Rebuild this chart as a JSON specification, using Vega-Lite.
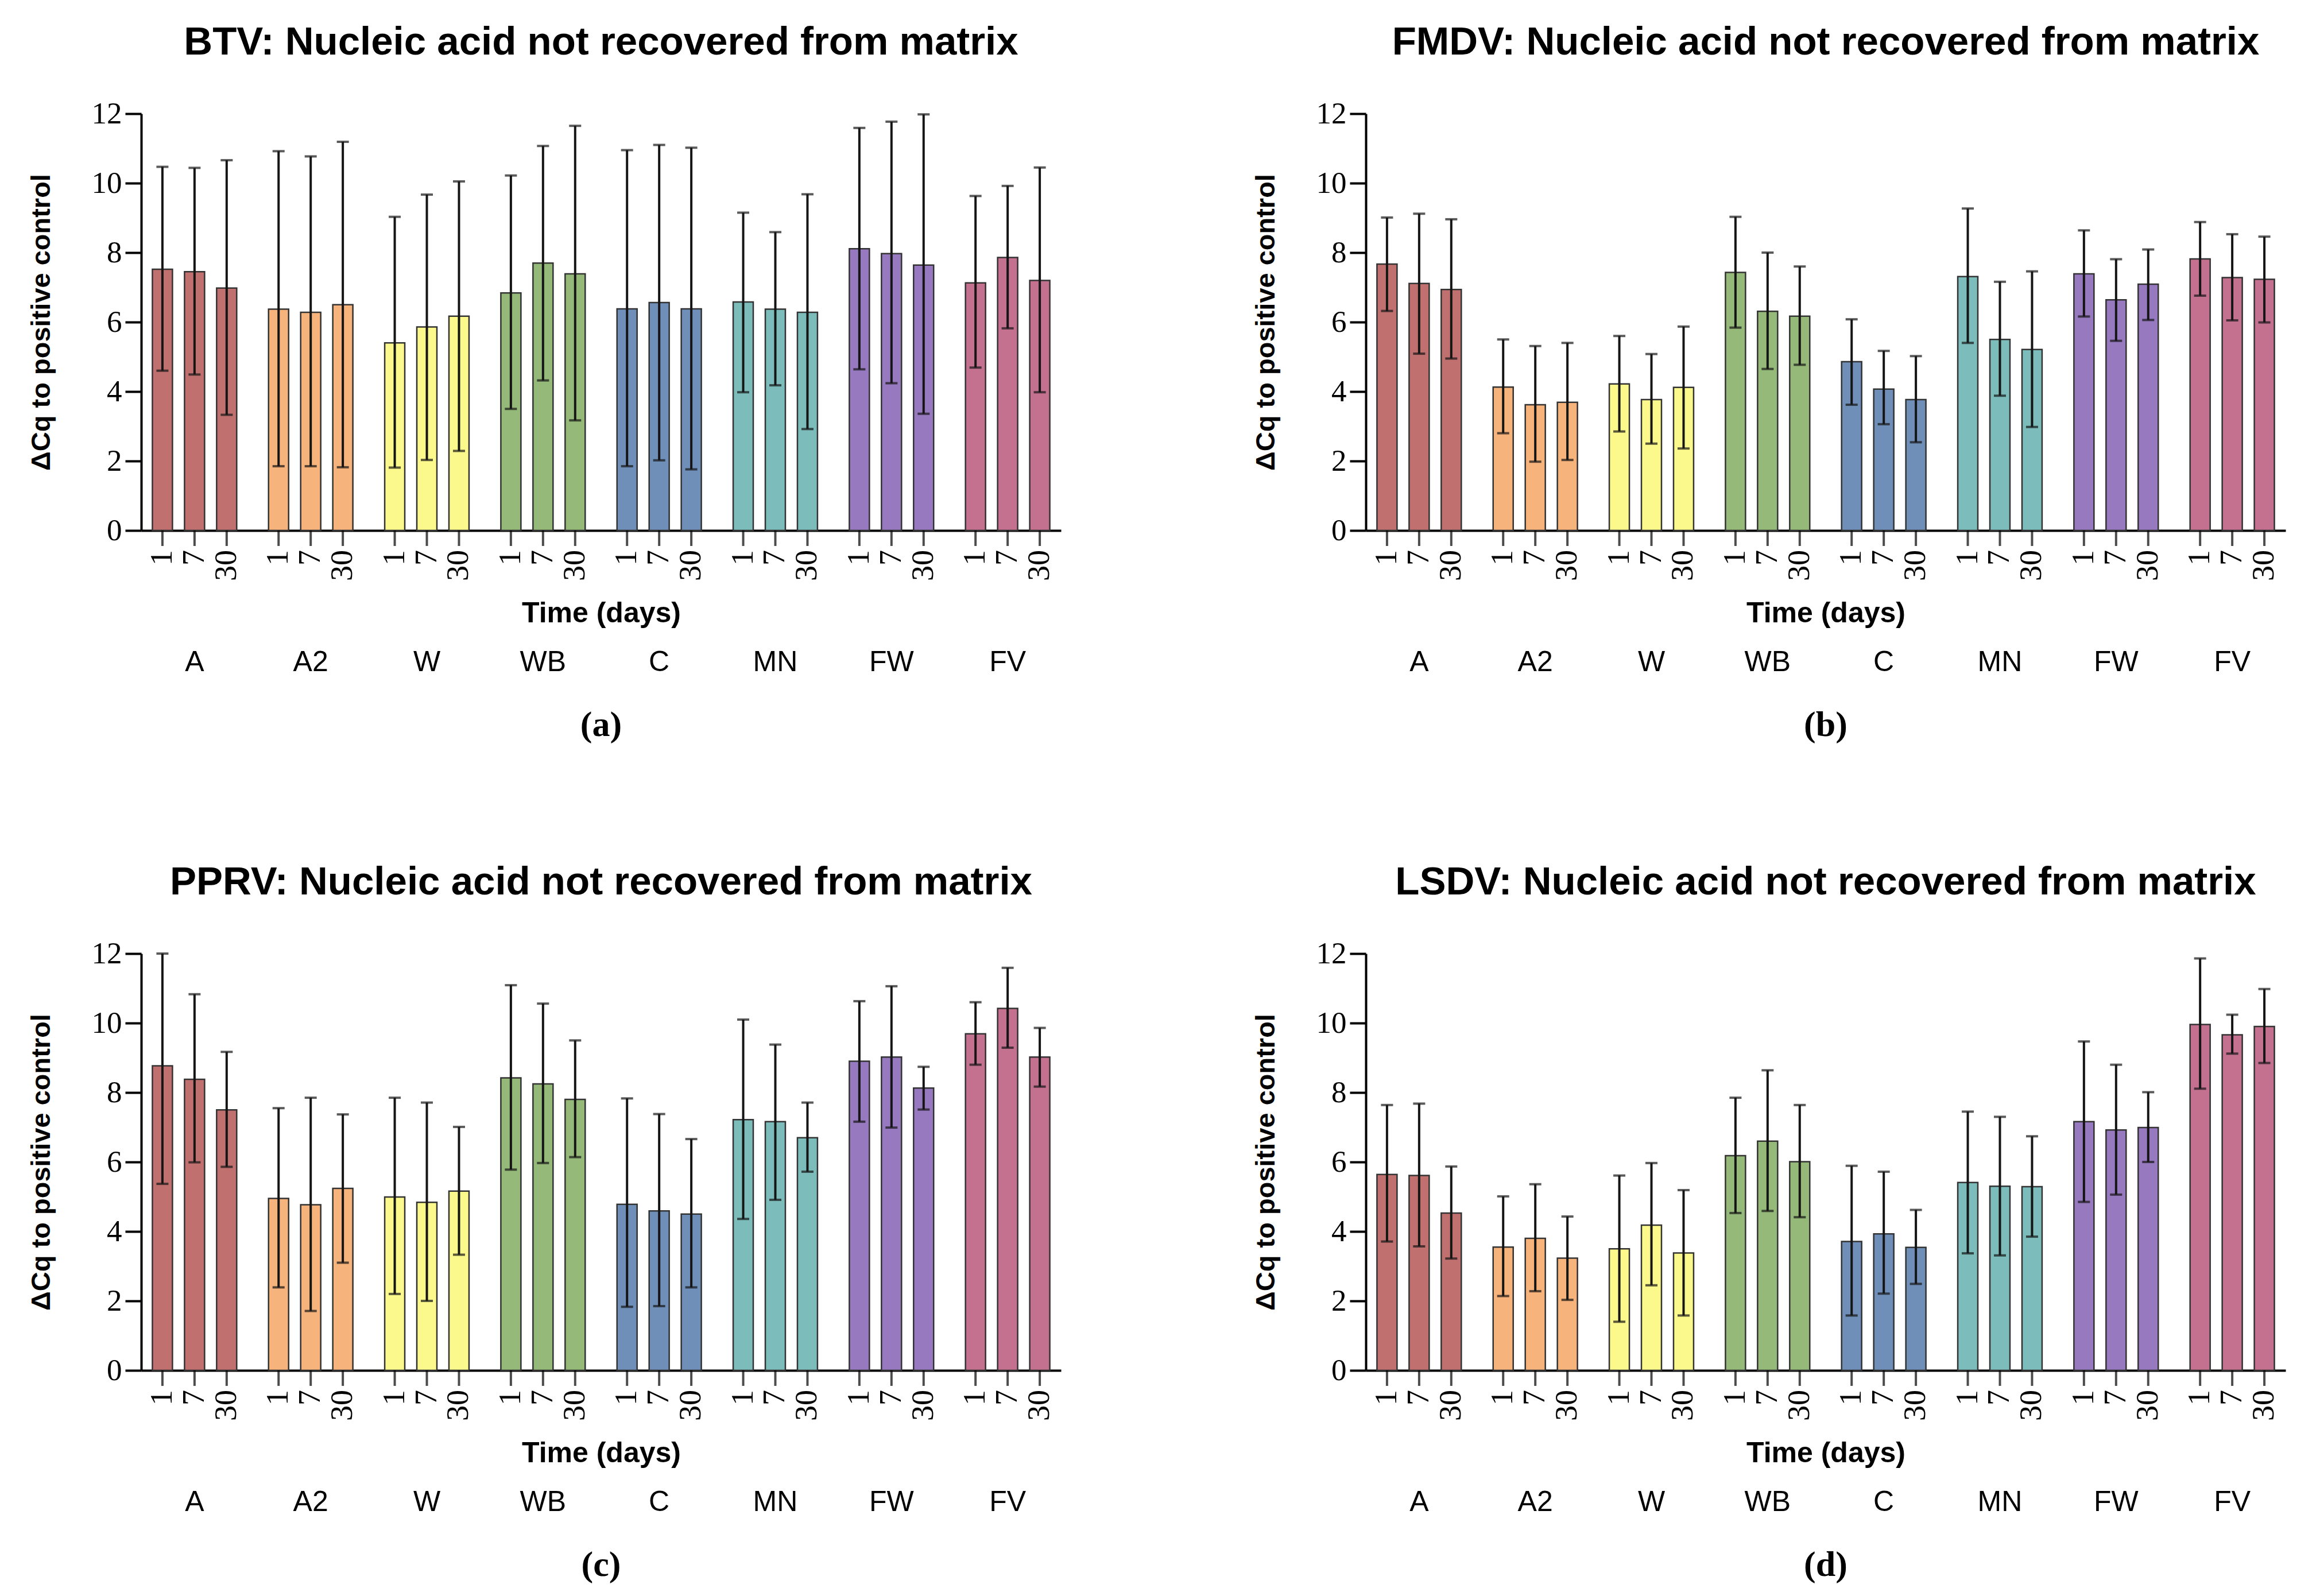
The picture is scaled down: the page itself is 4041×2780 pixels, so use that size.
{
  "$schema": "https://vega.github.io/schema/vega-lite/v6.json",
  "background": "white",
  "padding": {"left": 48, "top": 40, "right": 10, "bottom": 10},
  "datasets": {
    "rows": [
      {"virus":"BTV","matrix":"A","time":"1","mean":7.52,"lo":4.60,"hi":10.47},
      {"virus":"BTV","matrix":"A","time":"7","mean":7.45,"lo":4.49,"hi":10.44},
      {"virus":"BTV","matrix":"A","time":"30","mean":6.98,"lo":3.33,"hi":10.66},
      {"virus":"BTV","matrix":"A2","time":"1","mean":6.37,"lo":1.85,"hi":10.92},
      {"virus":"BTV","matrix":"A2","time":"7","mean":6.28,"lo":1.85,"hi":10.77},
      {"virus":"BTV","matrix":"A2","time":"30","mean":6.50,"lo":1.82,"hi":11.19},
      {"virus":"BTV","matrix":"W","time":"1","mean":5.40,"lo":1.81,"hi":9.03},
      {"virus":"BTV","matrix":"W","time":"7","mean":5.86,"lo":2.03,"hi":9.67},
      {"virus":"BTV","matrix":"W","time":"30","mean":6.17,"lo":2.29,"hi":10.05},
      {"virus":"BTV","matrix":"WB","time":"1","mean":6.84,"lo":3.50,"hi":10.22},
      {"virus":"BTV","matrix":"WB","time":"7","mean":7.70,"lo":4.32,"hi":11.07},
      {"virus":"BTV","matrix":"WB","time":"30","mean":7.39,"lo":3.17,"hi":11.65},
      {"virus":"BTV","matrix":"C","time":"1","mean":6.38,"lo":1.85,"hi":10.95},
      {"virus":"BTV","matrix":"C","time":"7","mean":6.56,"lo":2.02,"hi":11.10},
      {"virus":"BTV","matrix":"C","time":"30","mean":6.38,"lo":1.76,"hi":11.02},
      {"virus":"BTV","matrix":"MN","time":"1","mean":6.58,"lo":3.98,"hi":9.15},
      {"virus":"BTV","matrix":"MN","time":"7","mean":6.37,"lo":4.18,"hi":8.59},
      {"virus":"BTV","matrix":"MN","time":"30","mean":6.28,"lo":2.92,"hi":9.68},
      {"virus":"BTV","matrix":"FW","time":"1","mean":8.11,"lo":4.64,"hi":11.59},
      {"virus":"BTV","matrix":"FW","time":"7","mean":7.97,"lo":4.24,"hi":11.77},
      {"virus":"BTV","matrix":"FW","time":"30","mean":7.64,"lo":3.36,"hi":11.98},
      {"virus":"BTV","matrix":"FV","time":"1","mean":7.13,"lo":4.69,"hi":9.63},
      {"virus":"BTV","matrix":"FV","time":"7","mean":7.86,"lo":5.82,"hi":9.92},
      {"virus":"BTV","matrix":"FV","time":"30","mean":7.20,"lo":3.98,"hi":10.45},

      {"virus":"FMDV","matrix":"A","time":"1","mean":7.67,"lo":6.32,"hi":9.01},
      {"virus":"FMDV","matrix":"A","time":"7","mean":7.11,"lo":5.09,"hi":9.12},
      {"virus":"FMDV","matrix":"A","time":"30","mean":6.94,"lo":4.95,"hi":8.96},
      {"virus":"FMDV","matrix":"A2","time":"1","mean":4.13,"lo":2.80,"hi":5.50},
      {"virus":"FMDV","matrix":"A2","time":"7","mean":3.62,"lo":1.98,"hi":5.31},
      {"virus":"FMDV","matrix":"A2","time":"30","mean":3.69,"lo":2.03,"hi":5.40},
      {"virus":"FMDV","matrix":"W","time":"1","mean":4.22,"lo":2.85,"hi":5.60},
      {"virus":"FMDV","matrix":"W","time":"7","mean":3.77,"lo":2.50,"hi":5.08},
      {"virus":"FMDV","matrix":"W","time":"30","mean":4.12,"lo":2.36,"hi":5.87},
      {"virus":"FMDV","matrix":"WB","time":"1","mean":7.43,"lo":5.84,"hi":9.03},
      {"virus":"FMDV","matrix":"WB","time":"7","mean":6.31,"lo":4.65,"hi":8.00},
      {"virus":"FMDV","matrix":"WB","time":"30","mean":6.17,"lo":4.77,"hi":7.60},
      {"virus":"FMDV","matrix":"C","time":"1","mean":4.86,"lo":3.62,"hi":6.08},
      {"virus":"FMDV","matrix":"C","time":"7","mean":4.07,"lo":3.06,"hi":5.17},
      {"virus":"FMDV","matrix":"C","time":"30","mean":3.77,"lo":2.54,"hi":5.02},
      {"virus":"FMDV","matrix":"MN","time":"1","mean":7.31,"lo":5.40,"hi":9.27},
      {"virus":"FMDV","matrix":"MN","time":"7","mean":5.50,"lo":3.88,"hi":7.16},
      {"virus":"FMDV","matrix":"MN","time":"30","mean":5.21,"lo":2.98,"hi":7.46},
      {"virus":"FMDV","matrix":"FW","time":"1","mean":7.39,"lo":6.16,"hi":8.64},
      {"virus":"FMDV","matrix":"FW","time":"7","mean":6.64,"lo":5.46,"hi":7.81},
      {"virus":"FMDV","matrix":"FW","time":"30","mean":7.09,"lo":6.06,"hi":8.09},
      {"virus":"FMDV","matrix":"FV","time":"1","mean":7.82,"lo":6.76,"hi":8.88},
      {"virus":"FMDV","matrix":"FV","time":"7","mean":7.28,"lo":6.05,"hi":8.53},
      {"virus":"FMDV","matrix":"FV","time":"30","mean":7.23,"lo":5.99,"hi":8.46},

      {"virus":"PPRV","matrix":"A","time":"1","mean":8.77,"lo":5.37,"hi":12.0},
      {"virus":"PPRV","matrix":"A","time":"7","mean":8.38,"lo":5.99,"hi":10.83},
      {"virus":"PPRV","matrix":"A","time":"30","mean":7.50,"lo":5.86,"hi":9.17},
      {"virus":"PPRV","matrix":"A2","time":"1","mean":4.95,"lo":2.39,"hi":7.55},
      {"virus":"PPRV","matrix":"A2","time":"7","mean":4.77,"lo":1.71,"hi":7.85},
      {"virus":"PPRV","matrix":"A2","time":"30","mean":5.24,"lo":3.10,"hi":7.37},
      {"virus":"PPRV","matrix":"W","time":"1","mean":4.99,"lo":2.20,"hi":7.85},
      {"virus":"PPRV","matrix":"W","time":"7","mean":4.84,"lo":2.00,"hi":7.71},
      {"virus":"PPRV","matrix":"W","time":"30","mean":5.16,"lo":3.33,"hi":7.01},
      {"virus":"PPRV","matrix":"WB","time":"1","mean":8.42,"lo":5.78,"hi":11.09},
      {"virus":"PPRV","matrix":"WB","time":"7","mean":8.25,"lo":5.97,"hi":10.56},
      {"virus":"PPRV","matrix":"WB","time":"30","mean":7.80,"lo":6.14,"hi":9.50},
      {"virus":"PPRV","matrix":"C","time":"1","mean":4.78,"lo":1.83,"hi":7.83},
      {"virus":"PPRV","matrix":"C","time":"7","mean":4.59,"lo":1.85,"hi":7.38},
      {"virus":"PPRV","matrix":"C","time":"30","mean":4.50,"lo":2.39,"hi":6.66},
      {"virus":"PPRV","matrix":"MN","time":"1","mean":7.22,"lo":4.36,"hi":10.10},
      {"virus":"PPRV","matrix":"MN","time":"7","mean":7.16,"lo":4.91,"hi":9.38},
      {"virus":"PPRV","matrix":"MN","time":"30","mean":6.70,"lo":5.72,"hi":7.71},
      {"virus":"PPRV","matrix":"FW","time":"1","mean":8.90,"lo":7.16,"hi":10.63},
      {"virus":"PPRV","matrix":"FW","time":"7","mean":9.02,"lo":6.99,"hi":11.06},
      {"virus":"PPRV","matrix":"FW","time":"30","mean":8.13,"lo":7.51,"hi":8.74},
      {"virus":"PPRV","matrix":"FV","time":"1","mean":9.69,"lo":8.80,"hi":10.60},
      {"virus":"PPRV","matrix":"FV","time":"7","mean":10.42,"lo":9.29,"hi":11.59},
      {"virus":"PPRV","matrix":"FV","time":"30","mean":9.02,"lo":8.17,"hi":9.86},

      {"virus":"LSDV","matrix":"A","time":"1","mean":5.64,"lo":3.71,"hi":7.64},
      {"virus":"LSDV","matrix":"A","time":"7","mean":5.61,"lo":3.57,"hi":7.68},
      {"virus":"LSDV","matrix":"A","time":"30","mean":4.53,"lo":3.22,"hi":5.87},
      {"virus":"LSDV","matrix":"A2","time":"1","mean":3.55,"lo":2.14,"hi":5.01},
      {"virus":"LSDV","matrix":"A2","time":"7","mean":3.80,"lo":2.28,"hi":5.36},
      {"virus":"LSDV","matrix":"A2","time":"30","mean":3.23,"lo":2.03,"hi":4.43},
      {"virus":"LSDV","matrix":"W","time":"1","mean":3.50,"lo":1.40,"hi":5.61},
      {"virus":"LSDV","matrix":"W","time":"7","mean":4.18,"lo":2.45,"hi":5.97},
      {"virus":"LSDV","matrix":"W","time":"30","mean":3.38,"lo":1.58,"hi":5.19},
      {"virus":"LSDV","matrix":"WB","time":"1","mean":6.18,"lo":4.53,"hi":7.85},
      {"virus":"LSDV","matrix":"WB","time":"7","mean":6.60,"lo":4.59,"hi":8.64},
      {"virus":"LSDV","matrix":"WB","time":"30","mean":6.01,"lo":4.41,"hi":7.64},
      {"virus":"LSDV","matrix":"C","time":"1","mean":3.71,"lo":1.58,"hi":5.89},
      {"virus":"LSDV","matrix":"C","time":"7","mean":3.93,"lo":2.21,"hi":5.72},
      {"virus":"LSDV","matrix":"C","time":"30","mean":3.54,"lo":2.49,"hi":4.62},
      {"virus":"LSDV","matrix":"MN","time":"1","mean":5.41,"lo":3.37,"hi":7.45},
      {"virus":"LSDV","matrix":"MN","time":"7","mean":5.30,"lo":3.31,"hi":7.30},
      {"virus":"LSDV","matrix":"MN","time":"30","mean":5.29,"lo":3.85,"hi":6.74},
      {"virus":"LSDV","matrix":"FW","time":"1","mean":7.16,"lo":4.85,"hi":9.47},
      {"virus":"LSDV","matrix":"FW","time":"7","mean":6.92,"lo":5.06,"hi":8.80},
      {"virus":"LSDV","matrix":"FW","time":"30","mean":6.99,"lo":6.00,"hi":8.01},
      {"virus":"LSDV","matrix":"FV","time":"1","mean":9.96,"lo":8.11,"hi":11.86},
      {"virus":"LSDV","matrix":"FV","time":"7","mean":9.66,"lo":9.12,"hi":10.24},
      {"virus":"LSDV","matrix":"FV","time":"30","mean":9.90,"lo":8.85,"hi":10.98}
    ]
  },
  "config": {
    "view": {"stroke": null},
    "font": "Liberation Sans",
    "axis": {"grid": false, "domainColor": "#000", "tickColor": "#000", "labelColor": "#000", "titleColor": "#000", "domainWidth": 4, "tickWidth": 4},
    "axisX": {"ticks": false, "labelAngle": 0, "labelPadding": 204, "labelFont": "Liberation Sans", "labelFontSize": 50, "titleFont": "Liberation Sans", "titleFontSize": 50, "titleFontWeight": "bold", "titleY": 159, "titleBaseline": "alphabetic"},
    "axisY": {"tickSize": 28, "labelPadding": 6, "labelFont": "Liberation Sans Narrow", "labelFontSize": 53, "titleFont": "Liberation Sans", "titleFontSize": 47, "titleFontWeight": "bold", "titleX": -160, "titleY": 363, "titleBaseline": "alphabetic", "titleAlign": "center", "titleAngle": 270},
    "title": {"font": "Liberation Sans", "fontSize": 69, "fontWeight": "bold", "color": "#000", "anchor": "middle", "frame": "group", "offset": 63},
    "concat": {"spacing": 0}
  },
  "spacing": 209,
  "vconcat": [
    {
      "spacing": 333,
      "hconcat": [
        {
          "title": {"text": "(a)", "orient": "bottom", "font": "Liberation Serif", "fontSize": 62, "fontWeight": "bold", "offset": 55, "anchor": "middle", "dx": 801},
          "vconcat": [{
            "width": 1602, "height": 726,
            "title": {"text": "BTV: Nucleic acid not recovered from matrix"},
            "data": {"name": "rows"},
            "transform": [{"filter": "datum.virus === 'BTV'"}],
            "encoding": {
              "x": {"field": "matrix", "type": "nominal", "sort": ["A","A2","W","WB","C","MN","FW","FV"], "scale": {"paddingInner": 0.274, "paddingOuter": 0.096}, "axis": {"title": "Time (days)"}},
              "xOffset": {"field": "time", "type": "nominal", "sort": ["1","7","30"], "scale": {"paddingInner": 0.375, "paddingOuter": 0}}
            },
            "layer": [
              {"mark": {"type": "bar", "stroke": "#333", "strokeWidth": 2.5}, "encoding": {"y": {"field": "mean", "type": "quantitative", "scale": {"domain": [0, 12], "nice": false}, "axis": {"title": "ΔCq to positive control", "values": [0,2,4,6,8,10,12], "format": "d"}}, "color": {"field": "matrix", "type": "nominal", "scale": {"domain": ["A","A2","W","WB","C","MN","FW","FV"], "range": ["#c0716f","#f7b37c","#fcf98c","#95b979","#6f8fb8","#7cbdbb","#9779bf","#c47190"]}, "legend": null}}},
              {"mark": {"type": "rule", "color": "#151515", "strokeWidth": 4}, "encoding": {"y": {"field": "lo", "type": "quantitative"}, "y2": {"field": "hi"}}},
              {"mark": {"type": "tick", "color": "#151515", "thickness": 4, "size": 21}, "encoding": {"y": {"field": "lo", "type": "quantitative"}}},
              {"mark": {"type": "tick", "color": "#151515", "thickness": 4, "size": 21}, "encoding": {"y": {"field": "hi", "type": "quantitative"}}},
              {"mark": {"type": "tick", "orient": "vertical", "color": "#000", "thickness": 4, "size": 27, "yOffset": 13.5}, "encoding": {"y": {"datum": 0, "type": "quantitative"}}},
              {"mark": {"type": "text", "angle": 270, "align": "right", "baseline": "middle", "font": "Liberation Sans Narrow", "fontSize": 54, "color": "#000", "yOffset": 34}, "encoding": {"y": {"datum": 0, "type": "quantitative"}, "text": {"field": "time"}}}
            ]
          }]
        },
        {
          "title": {"text": "(b)", "orient": "bottom", "font": "Liberation Serif", "fontSize": 62, "fontWeight": "bold", "offset": 55, "anchor": "middle", "dx": 801},
          "vconcat": [{
            "width": 1602, "height": 726,
            "title": {"text": "FMDV:  Nucleic acid not recovered from matrix"},
            "data": {"name": "rows"},
            "transform": [{"filter": "datum.virus === 'FMDV'"}],
            "encoding": {
              "x": {"field": "matrix", "type": "nominal", "sort": ["A","A2","W","WB","C","MN","FW","FV"], "scale": {"paddingInner": 0.274, "paddingOuter": 0.096}, "axis": {"title": "Time (days)"}},
              "xOffset": {"field": "time", "type": "nominal", "sort": ["1","7","30"], "scale": {"paddingInner": 0.375, "paddingOuter": 0}}
            },
            "layer": [
              {"mark": {"type": "bar", "stroke": "#333", "strokeWidth": 2.5}, "encoding": {"y": {"field": "mean", "type": "quantitative", "scale": {"domain": [0, 12], "nice": false}, "axis": {"title": "ΔCq to positive control", "values": [0,2,4,6,8,10,12], "format": "d"}}, "color": {"field": "matrix", "type": "nominal", "scale": {"domain": ["A","A2","W","WB","C","MN","FW","FV"], "range": ["#c0716f","#f7b37c","#fcf98c","#95b979","#6f8fb8","#7cbdbb","#9779bf","#c47190"]}, "legend": null}}},
              {"mark": {"type": "rule", "color": "#151515", "strokeWidth": 4}, "encoding": {"y": {"field": "lo", "type": "quantitative"}, "y2": {"field": "hi"}}},
              {"mark": {"type": "tick", "color": "#151515", "thickness": 4, "size": 21}, "encoding": {"y": {"field": "lo", "type": "quantitative"}}},
              {"mark": {"type": "tick", "color": "#151515", "thickness": 4, "size": 21}, "encoding": {"y": {"field": "hi", "type": "quantitative"}}},
              {"mark": {"type": "tick", "orient": "vertical", "color": "#000", "thickness": 4, "size": 27, "yOffset": 13.5}, "encoding": {"y": {"datum": 0, "type": "quantitative"}}},
              {"mark": {"type": "text", "angle": 270, "align": "right", "baseline": "middle", "font": "Liberation Sans Narrow", "fontSize": 54, "color": "#000", "yOffset": 34}, "encoding": {"y": {"datum": 0, "type": "quantitative"}, "text": {"field": "time"}}}
            ]
          }]
        }
      ]
    },
    {
      "spacing": 333,
      "hconcat": [
        {
          "title": {"text": "(c)", "orient": "bottom", "font": "Liberation Serif", "fontSize": 62, "fontWeight": "bold", "offset": 55, "anchor": "middle", "dx": 801},
          "vconcat": [{
            "width": 1602, "height": 726,
            "title": {"text": "PPRV:  Nucleic acid not recovered from matrix"},
            "data": {"name": "rows"},
            "transform": [{"filter": "datum.virus === 'PPRV'"}],
            "encoding": {
              "x": {"field": "matrix", "type": "nominal", "sort": ["A","A2","W","WB","C","MN","FW","FV"], "scale": {"paddingInner": 0.274, "paddingOuter": 0.096}, "axis": {"title": "Time (days)"}},
              "xOffset": {"field": "time", "type": "nominal", "sort": ["1","7","30"], "scale": {"paddingInner": 0.375, "paddingOuter": 0}}
            },
            "layer": [
              {"mark": {"type": "bar", "stroke": "#333", "strokeWidth": 2.5}, "encoding": {"y": {"field": "mean", "type": "quantitative", "scale": {"domain": [0, 12], "nice": false}, "axis": {"title": "ΔCq to positive control", "values": [0,2,4,6,8,10,12], "format": "d"}}, "color": {"field": "matrix", "type": "nominal", "scale": {"domain": ["A","A2","W","WB","C","MN","FW","FV"], "range": ["#c0716f","#f7b37c","#fcf98c","#95b979","#6f8fb8","#7cbdbb","#9779bf","#c47190"]}, "legend": null}}},
              {"mark": {"type": "rule", "color": "#151515", "strokeWidth": 4}, "encoding": {"y": {"field": "lo", "type": "quantitative"}, "y2": {"field": "hi"}}},
              {"mark": {"type": "tick", "color": "#151515", "thickness": 4, "size": 21}, "encoding": {"y": {"field": "lo", "type": "quantitative"}}},
              {"mark": {"type": "tick", "color": "#151515", "thickness": 4, "size": 21}, "encoding": {"y": {"field": "hi", "type": "quantitative"}}},
              {"mark": {"type": "tick", "orient": "vertical", "color": "#000", "thickness": 4, "size": 27, "yOffset": 13.5}, "encoding": {"y": {"datum": 0, "type": "quantitative"}}},
              {"mark": {"type": "text", "angle": 270, "align": "right", "baseline": "middle", "font": "Liberation Sans Narrow", "fontSize": 54, "color": "#000", "yOffset": 34}, "encoding": {"y": {"datum": 0, "type": "quantitative"}, "text": {"field": "time"}}}
            ]
          }]
        },
        {
          "title": {"text": "(d)", "orient": "bottom", "font": "Liberation Serif", "fontSize": 62, "fontWeight": "bold", "offset": 55, "anchor": "middle", "dx": 801},
          "vconcat": [{
            "width": 1602, "height": 726,
            "title": {"text": "LSDV:  Nucleic acid not recovered from matrix"},
            "data": {"name": "rows"},
            "transform": [{"filter": "datum.virus === 'LSDV'"}],
            "encoding": {
              "x": {"field": "matrix", "type": "nominal", "sort": ["A","A2","W","WB","C","MN","FW","FV"], "scale": {"paddingInner": 0.274, "paddingOuter": 0.096}, "axis": {"title": "Time (days)"}},
              "xOffset": {"field": "time", "type": "nominal", "sort": ["1","7","30"], "scale": {"paddingInner": 0.375, "paddingOuter": 0}}
            },
            "layer": [
              {"mark": {"type": "bar", "stroke": "#333", "strokeWidth": 2.5}, "encoding": {"y": {"field": "mean", "type": "quantitative", "scale": {"domain": [0, 12], "nice": false}, "axis": {"title": "ΔCq to positive control", "values": [0,2,4,6,8,10,12], "format": "d"}}, "color": {"field": "matrix", "type": "nominal", "scale": {"domain": ["A","A2","W","WB","C","MN","FW","FV"], "range": ["#c0716f","#f7b37c","#fcf98c","#95b979","#6f8fb8","#7cbdbb","#9779bf","#c47190"]}, "legend": null}}},
              {"mark": {"type": "rule", "color": "#151515", "strokeWidth": 4}, "encoding": {"y": {"field": "lo", "type": "quantitative"}, "y2": {"field": "hi"}}},
              {"mark": {"type": "tick", "color": "#151515", "thickness": 4, "size": 21}, "encoding": {"y": {"field": "lo", "type": "quantitative"}}},
              {"mark": {"type": "tick", "color": "#151515", "thickness": 4, "size": 21}, "encoding": {"y": {"field": "hi", "type": "quantitative"}}},
              {"mark": {"type": "tick", "orient": "vertical", "color": "#000", "thickness": 4, "size": 27, "yOffset": 13.5}, "encoding": {"y": {"datum": 0, "type": "quantitative"}}},
              {"mark": {"type": "text", "angle": 270, "align": "right", "baseline": "middle", "font": "Liberation Sans Narrow", "fontSize": 54, "color": "#000", "yOffset": 34}, "encoding": {"y": {"datum": 0, "type": "quantitative"}, "text": {"field": "time"}}}
            ]
          }]
        }
      ]
    }
  ]
}
